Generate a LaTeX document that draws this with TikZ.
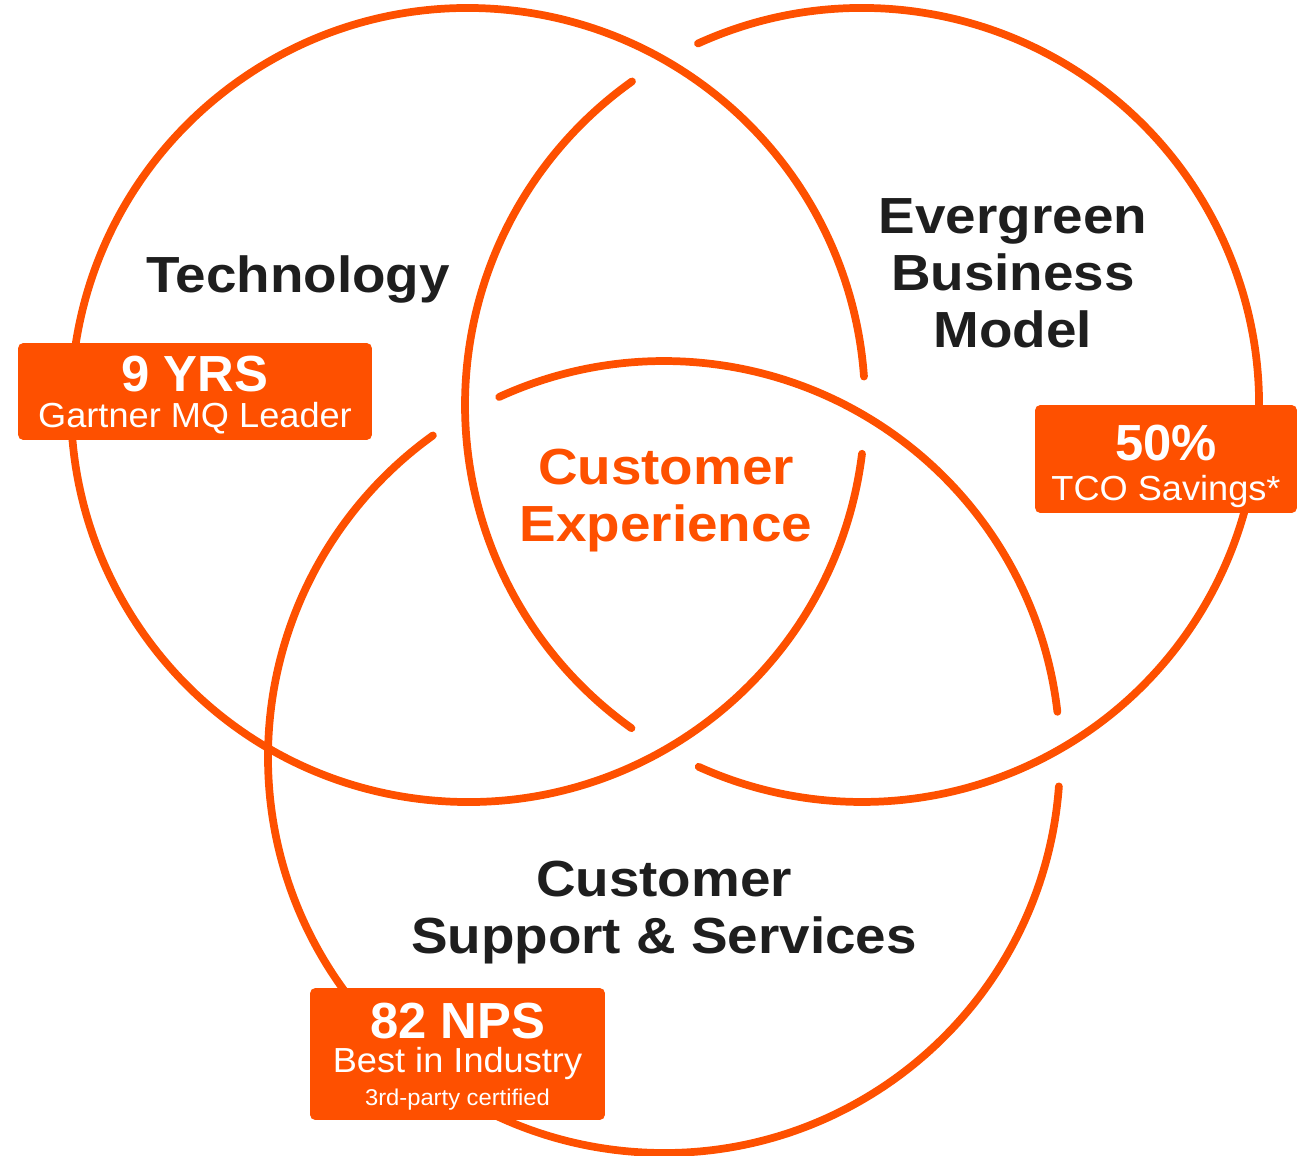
\documentclass[tikz,border=0pt]{standalone}
\usepackage{fontspec}
\setmainfont{Liberation Sans}
\newfontfamily\headfont[FakeStretch=1.08]{Liberation Sans}
\newfontfamily\notefont[FakeStretch=1.04]{Liberation Sans}
\definecolor{venn}{HTML}{FE5000}
\definecolor{ink}{HTML}{1E1E1E}

\begin{document}
\begin{tikzpicture}[x=0.02cm,y=-0.02cm,
  ring/.style={draw=venn,line width=4.4pt,line cap=round},
  head/.style={text=ink,font=\headfont\bfseries\fontsize{28.9pt}{32.3pt}\selectfont,align=center,anchor=base,inner sep=0pt},
  core/.style={head,text=venn},
  badge/.style={fill=venn,rounded corners=3pt,inner sep=0pt},
  big/.style={text=white,font=\bfseries\fontsize{28.9pt}{32pt}\selectfont,anchor=base,inner sep=0pt},
  small/.style={text=white,font=\notefont\fontsize{19.8pt}{22pt}\selectfont,anchor=base,inner sep=0pt},
  tiny/.style={text=white,font=\notefont\fontsize{13pt}{15pt}\selectfont,anchor=base,inner sep=0pt}]
   \useasboundingbox (0,0) rectangle (1312,1156);
   \coordinate (tech) at (468,405);
   \coordinate (ever) at (862,405);
   \coordinate (supp) at (664,757);
   \draw[ring] (tech) ++(7.05:397) arc[start angle=7.05,end angle=355.9,radius=397];
   \draw[ring] (ever) ++(-114.4:397) arc[start angle=-114.4,end angle=114.3,radius=397];
   \draw[ring] (ever) ++(125.5:397) arc[start angle=125.5,end angle=234.6,radius=397];
   \draw[ring] (supp) ++(4.25:396) arc[start angle=4.25,end angle=234.3,radius=396];
   \draw[ring] (supp) ++(245.4:396) arc[start angle=245.4,end angle=353.45,radius=396];
   \node[head] (techlbl) at (298,292) {Technology};
   \node[head] (everlbl) at (1013,347) {Evergreen\\Business\\Model};
   \node[core] (cxlbl) at (666,541) {Customer\\Experience};
   \node[head] (supplbl) at (664,953) {Customer\\Support \& Services};
   \node[badge,minimum width=7.08cm,minimum height=1.94cm] (yrsbox) at (195,391.5) {};
   \node[badge,minimum width=5.24cm,minimum height=2.16cm] (tcobox) at (1166,459) {};
   \node[badge,minimum width=5.9cm,minimum height=2.64cm] (npsbox) at (457.5,1054) {};
   \node[big] (yrs) at (195,391) {9 YRS};
   \node[small] (yrsnote) at (195,427) {Gartner MQ Leader};
   \node[big] (tco) at (1166,460) {50\%};
   \node[small] (tconote) at (1166,500) {TCO Savings*};
   \node[big] (nps) at (457.5,1038) {82 NPS};
   \node[small] (npsnote) at (457.5,1072) {Best in Industry};
   \node[tiny] (npscert) at (457.5,1105) {3rd-party certified};
\end{tikzpicture}
\end{document}
